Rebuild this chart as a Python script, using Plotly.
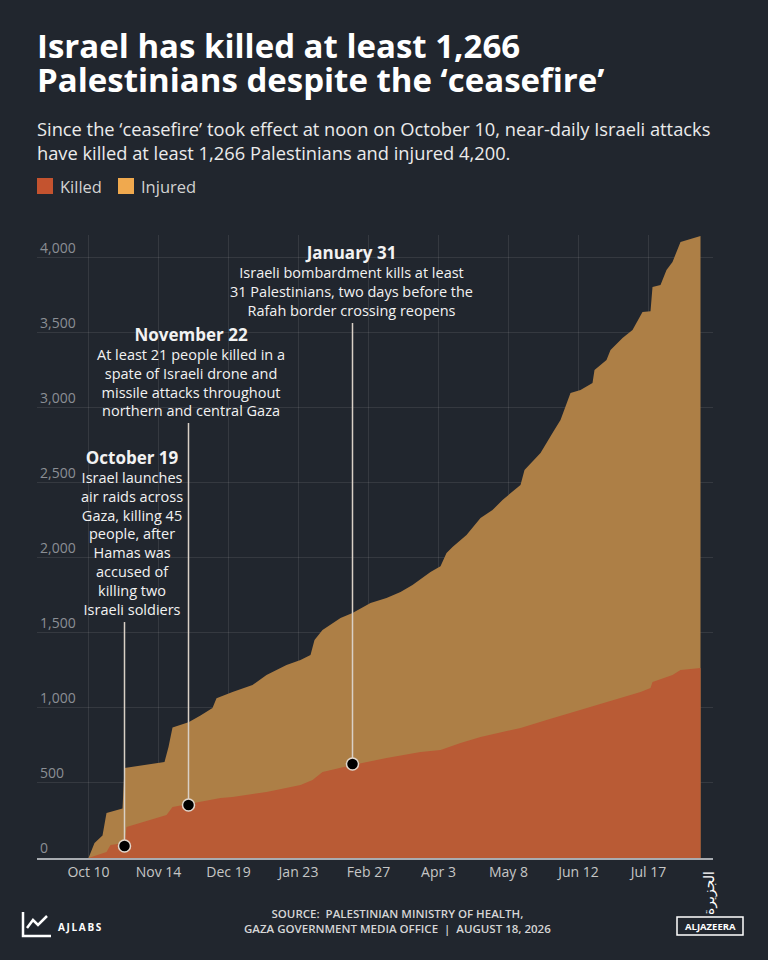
import plotly.graph_objects as go

W, H = 768, 960
# plot box in pixels: left, right, top, bottom margins
ML, MR, MT, MB = 37, 55, 235, 102

BG = "#21262e"
INJURED_FILL = "#ad7f46"
KILLED_FILL = "#b95b35"
FONT = "Open Sans"

# cumulative injured since the 'ceasefire'
injured_dates = [
    "2025-10-10", "2025-10-13", "2025-10-17", "2025-10-19", "2025-10-27",
    "2025-10-28", "2025-11-17", "2025-11-19", "2025-11-21", "2025-11-29",
    "2025-12-05", "2025-12-11", "2025-12-13", "2025-12-21", "2025-12-31",
    "2026-01-07", "2026-01-17", "2026-01-24", "2026-01-29", "2026-01-31",
    "2026-02-04", "2026-02-13", "2026-02-19", "2026-02-28", "2026-03-08",
    "2026-03-15", "2026-03-21", "2026-03-30", "2026-04-04", "2026-04-07",
    "2026-04-10", "2026-04-17", "2026-04-24", "2026-04-30", "2026-05-05",
    "2026-05-14", "2026-05-16", "2026-05-24", "2026-05-30", "2026-06-03",
    "2026-06-08", "2026-06-13", "2026-06-19", "2026-06-20", "2026-06-26",
    "2026-06-28", "2026-07-04", "2026-07-09", "2026-07-14", "2026-07-18",
    "2026-07-19", "2026-07-23", "2026-07-26", "2026-07-29", "2026-08-02",
    "2026-08-07", "2026-08-12",
]
injured_values = [
    0, 100, 150, 300, 330,
    600, 640, 740, 870, 905,
    950, 1000, 1065, 1107, 1153,
    1220, 1287, 1320, 1353, 1453,
    1520, 1600, 1633, 1700, 1733,
    1773, 1820, 1907, 1945, 2033,
    2073, 2153, 2267, 2320, 2387,
    2487, 2587, 2700, 2833, 2920,
    3100, 3120, 3167, 3253, 3320,
    3387, 3467, 3520, 3640, 3645,
    3807, 3820, 3920, 3973, 4107,
    4127, 4147,
]

# cumulative killed since the 'ceasefire'
killed_dates = [
    "2025-10-10", "2025-10-12", "2025-10-19", "2025-10-21", "2025-10-28",
    "2025-10-29", "2025-11-18", "2025-11-21", "2025-11-29", "2025-12-05",
    "2025-12-15", "2025-12-21", "2026-01-07", "2026-01-24", "2026-01-30",
    "2026-02-04", "2026-02-19", "2026-03-08", "2026-03-25", "2026-04-04",
    "2026-04-14", "2026-04-24", "2026-05-14", "2026-05-27", "2026-06-09",
    "2026-06-26", "2026-07-13", "2026-07-18", "2026-07-19", "2026-07-29",
    "2026-08-02", "2026-08-12",
]
killed_values = [
    0, 10, 40, 87, 100,
    207, 287, 340, 360, 373,
    400, 407, 440, 487, 520,
    573, 620, 667, 707, 720,
    767, 807, 867, 920, 973,
    1040, 1107, 1133, 1173, 1220,
    1253, 1266,
]

event_titles = ["October 19", "November 22", "January 31"]
event_texts = [
    "Israel launches<br>air raids across<br>Gaza, killing 45<br>people, after<br>"
    "Hamas was<br>accused of<br>killing two<br>Israeli soldiers",
    "At least 21 people killed in a<br>spate of Israeli drone and<br>"
    "missile attacks throughout<br>northern and central Gaza",
    "Israeli bombardment kills at least<br>31 Palestinians, two days before the<br>"
    "Rafah border crossing reopens",
]
event_dates = ["2025-10-28", "2025-11-29", "2026-02-19"]
event_values = [80, 353, 627]
event_line_tops = [1573, 2900, 3567]
event_text_shift = [7, 2, -1]

tick_dates = [
    "2025-10-10", "2025-11-14", "2025-12-19", "2026-01-23", "2026-02-27",
    "2026-04-03", "2026-05-08", "2026-06-12", "2026-07-17",
]
tick_labels = [
    "Oct 10", "Nov 14", "Dec 19", "Jan 23", "Feb 27",
    "Apr 3", "May 8", "Jun 12", "Jul 17",
]
y_ticks = [0, 500, 1000, 1500, 2000, 2500, 3000, 3500, 4000]

legend_names = ["Killed", "Injured"]
legend_colors = ["#c4532f", "#f0a94e"]


def px_x(x):
    return (x - ML) / (W - ML - MR)


def px_y(y):
    return (H - MB - y) / (H - MT - MB)


def main():
    fig = go.Figure()
    fig.add_trace(go.Scatter(
        x=injured_dates, y=injured_values, mode="lines", fill="tozeroy",
        fillcolor=INJURED_FILL, line=dict(width=0, color=INJURED_FILL),
        hoverinfo="skip", showlegend=False,
    ))
    fig.add_trace(go.Scatter(
        x=killed_dates, y=killed_values, mode="lines", fill="tozeroy",
        fillcolor=KILLED_FILL, line=dict(width=0, color=KILLED_FILL),
        hoverinfo="skip", showlegend=False,
    ))

    for d, v, top in zip(event_dates, event_values, event_line_tops):
        fig.add_trace(go.Scatter(
            x=[d, d], y=[v, top], mode="lines",
            line=dict(color="#d9d0c6", width=1.5),
            hoverinfo="skip", showlegend=False,
        ))
    fig.add_trace(go.Scatter(
        x=event_dates, y=event_values, mode="markers",
        marker=dict(size=12, color="#000000", line=dict(color="#e2d8cd", width=1.5)),
        hoverinfo="skip", showlegend=False,
    ))

    for title, text, d, top, dx in zip(event_titles, event_texts, event_dates,
                                       event_line_tops, event_text_shift):
        fig.add_annotation(
            x=d, y=top, xref="x", yref="y", xanchor="center", yanchor="bottom",
            xshift=dx, yshift=1, showarrow=False, align="center",
            text=f"<span style='font-size:17px'><b>{title}</b></span><br>{text}",
            font=dict(family=FONT, size=14.5, color="#f2f2f2"),
        )

    # header
    header = [
        ("<b>Israel has killed at least 1,266</b>", 46, 33, "#ffffff"),
        ("<b>Palestinians despite the ‘ceasefire’</b>", 80, 33, "#ffffff"),
        ("Since the ‘ceasefire’ took effect at noon on October 10, near-daily Israeli attacks",
         128, 18.3, "#ebebeb"),
        ("have killed at least 1,266 Palestinians and injured 4,200.", 152, 18.3, "#ebebeb"),
    ]
    for text, y, size, color in header:
        fig.add_annotation(
            x=px_x(35), y=px_y(y), xref="paper", yref="paper",
            xanchor="left", yanchor="middle", showarrow=False, text=text,
            font=dict(family=FONT, size=size, color=color),
        )

    # legend
    for name, color, x0 in zip(legend_names, legend_colors, [37, 118]):
        fig.add_shape(
            type="rect", xref="paper", yref="paper",
            x0=px_x(x0), x1=px_x(x0 + 16), y0=px_y(194), y1=px_y(178),
            fillcolor=color, line=dict(width=0),
        )
        fig.add_annotation(
            x=px_x(x0 + 21), y=px_y(186), xref="paper", yref="paper",
            xanchor="left", yanchor="middle", showarrow=False, text=name,
            font=dict(family=FONT, size=16.5, color="#d2d2d2"),
        )

    # footer
    fig.add_annotation(
        x=px_x(397), y=px_y(921), xref="paper", yref="paper",
        xanchor="center", yanchor="middle", showarrow=False,
        text="SOURCE:  PALESTINIAN MINISTRY OF HEALTH,<br>"
             "GAZA GOVERNMENT MEDIA OFFICE  |  AUGUST 18, 2026",
        font=dict(family=FONT, size=11.5, color="#d6d6d6", weight=600),
    )
    # AJLABS mark
    fig.add_shape(
        type="path", xref="paper", yref="paper",
        path=f"M{px_x(23)},{px_y(912)} L{px_x(23)},{px_y(936)} L{px_x(51)},{px_y(936)}",
        line=dict(color="#ffffff", width=2.5),
    )
    fig.add_shape(
        type="path", xref="paper", yref="paper",
        path=(f"M{px_x(27)},{px_y(928)} L{px_x(33)},{px_y(920)} "
              f"L{px_x(38)},{px_y(925)} L{px_x(47)},{px_y(916)}"),
        line=dict(color="#ffffff", width=2.5),
    )
    fig.add_annotation(
        x=px_x(56), y=px_y(927), xref="paper", yref="paper",
        xanchor="left", yanchor="middle", showarrow=False,
        text="A\u2009J\u2009L\u2009A\u2009B\u2009S",
        font=dict(family=FONT, size=10, color="#ffffff", weight=700),
    )
    # Al Jazeera mark
    fig.add_shape(
        type="rect", xref="paper", yref="paper",
        x0=px_x(677), x1=px_x(743), y0=px_y(935), y1=px_y(917),
        line=dict(color="#ffffff", width=1.5),
    )
    fig.add_annotation(
        x=px_x(710), y=px_y(926.5), xref="paper", yref="paper",
        xanchor="center", yanchor="middle", showarrow=False, text="<b>ALJAZEERA</b>",
        font=dict(family=FONT, size=9.5, color="#ffffff"),
    )
    fig.add_annotation(
        x=px_x(709), y=px_y(893), xref="paper", yref="paper",
        xanchor="center", yanchor="middle", showarrow=False, text="الجزيرة",
        textangle=-90, font=dict(family="DejaVu Sans", size=14, color="#ffffff"),
    )

    fig.update_layout(
        width=W, height=H,
        margin=dict(l=ML, r=MR, t=MT, b=MB, pad=0),
        paper_bgcolor=BG, plot_bgcolor=BG,
        font=dict(family=FONT),
        showlegend=False,
    )
    fig.update_xaxes(
        type="date", range=["2025-09-14 06:00", "2026-08-18 06:00"],
        tickvals=tick_dates, ticktext=tick_labels,
        tickfont=dict(family=FONT, size=14, color="#c6c6c6"),
        showgrid=True, gridcolor="rgba(255,255,255,0.09)", gridwidth=1,
        showline=True, linecolor="#a8acb1", linewidth=2,
        zeroline=False, ticks="", fixedrange=True,
    )
    fig.update_yaxes(
        range=[0, 4153], tickvals=y_ticks, tickformat=",d",
        ticklabelposition="inside top",
        tickfont=dict(family=FONT, size=14, color="#8b8f95"),
        showgrid=True, gridcolor="rgba(255,255,255,0.09)", gridwidth=1,
        zeroline=False, showline=False, ticks="", fixedrange=True,
    )
    fig.write_html(
        "out.html",
        config={"displayModeBar": False},
        post_script="document.body.style.margin='0';",
    )


if __name__ == "__main__":
    main()
